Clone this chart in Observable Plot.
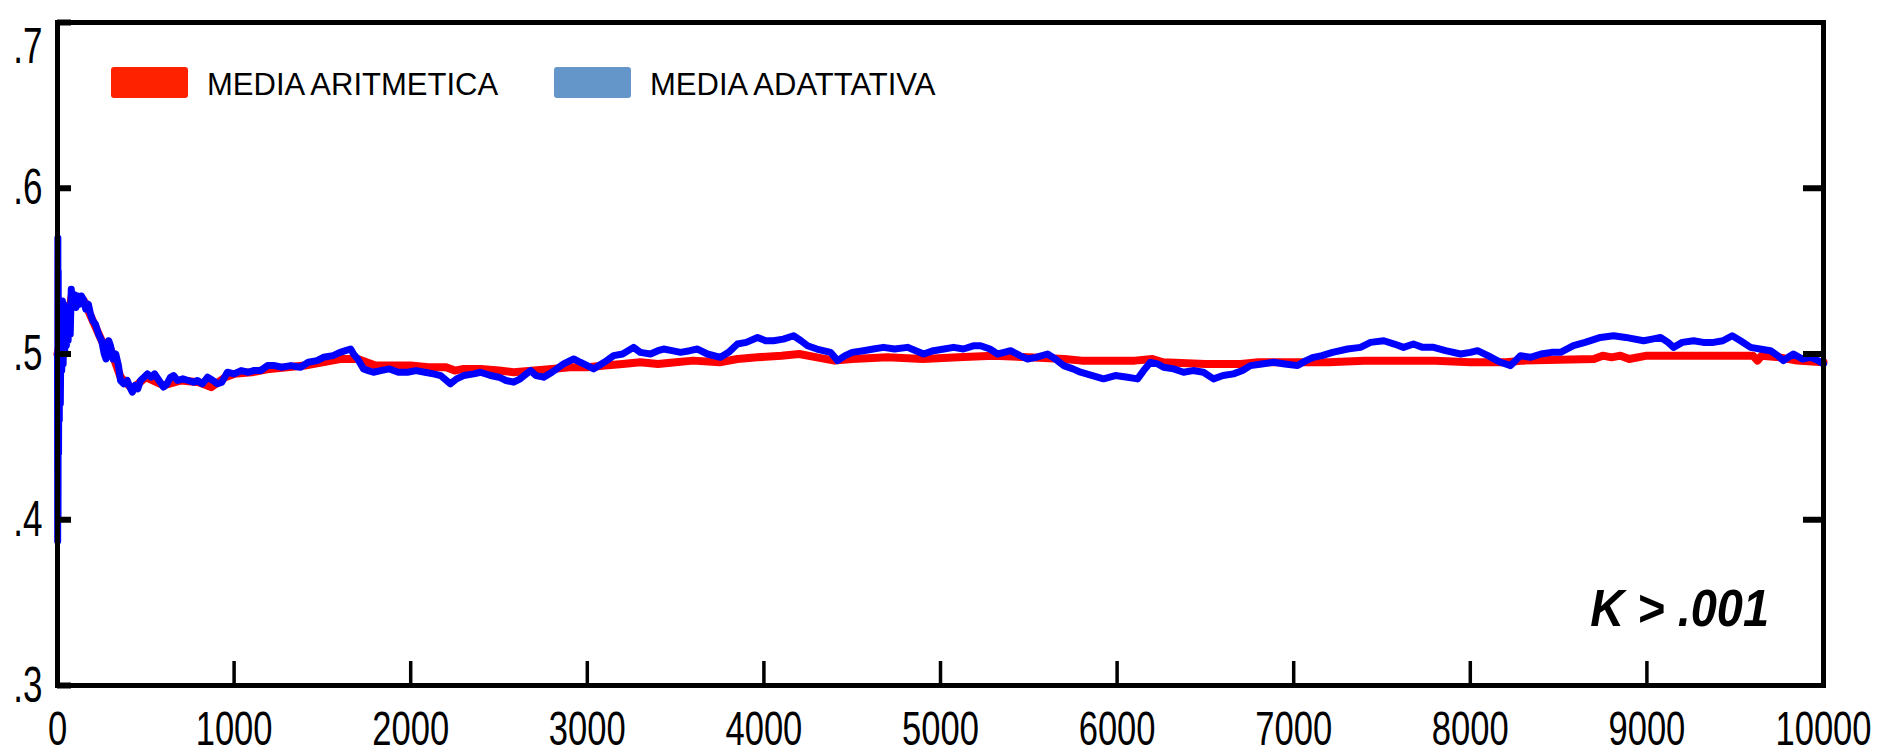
<!DOCTYPE html>
<html>
<head>
<meta charset="utf-8">
<script src="https://cdn.jsdelivr.net/npm/d3@7"></script>
<script src="https://cdn.jsdelivr.net/npm/@observablehq/plot@0.6"></script>
<style>
  html, body { margin: 0; padding: 0; background: #fff; }
  #chart { width: 1893px; height: 752px; }
</style>
</head>
<body>
<div id="chart"></div>
<script>
// ---- data ----
const xTicks = [0, 1000, 2000, 3000, 4000, 5000, 6000, 7000, 8000, 9000, 10000];
const yTicks = [0.3, 0.4, 0.5, 0.6, 0.7];
const yTickLabels = [".3", ".4", ".5", ".6", ".7"];
const seriesNames = ["MEDIA ARITMETICA", "MEDIA ADATTATIVA"];
const annotation = "K > .001";

// adaptive mean [step, value]
const adaptive = [
[0,0.50],[1,0.387],[2,0.57],[3,0.40],[4,0.55],[6,0.44],[8,0.53],[10,0.46],[13,0.52],[16,0.47],[20,0.52],[24,0.49],[28,0.532],[32,0.494],[36,0.53],[40,0.50],[45,0.515],[50,0.505],[55,0.51],[60,0.508],[65,0.52],[72,0.512],[78,0.539],[85,0.530],[95,0.536],[105,0.528],[115,0.535],[125,0.530],[135,0.535],[147,0.533],[160,0.527],[175,0.530],[187,0.524],[200,0.520],[215,0.518],[232,0.512],[250,0.508],[265,0.500],[275,0.497],[290,0.508],[300,0.505],[315,0.497],[330,0.500],[345,0.493],[357,0.484],[375,0.482],[395,0.484],[410,0.480],[424,0.477],[440,0.481],[455,0.479],[470,0.484],[490,0.486],[509,0.488],[530,0.486],[550,0.488],[575,0.484],[600,0.480],[620,0.482],[640,0.486],[657,0.487],[680,0.484],[710,0.485],[740,0.484],[770,0.483],[792,0.484],[820,0.482],[850,0.486],[880,0.484],[906,0.482],[930,0.483],[962,0.489],[1000,0.488],[1040,0.490],[1080,0.489],[1110,0.490],[1150,0.490],[1189,0.493],[1230,0.493],[1270,0.492],[1320,0.493],[1376,0.492],[1420,0.495],[1470,0.496],[1506,0.498],[1560,0.499],[1600,0.501],[1631,0.502],[1660,0.503],[1676,0.500],[1700,0.497],[1733,0.491],[1760,0.490],[1789,0.489],[1830,0.490],[1880,0.491],[1930,0.489],[1982,0.489],[2030,0.490],[2080,0.489],[2129,0.488],[2170,0.487],[2225,0.482],[2260,0.485],[2300,0.487],[2357,0.488],[2395,0.489],[2452,0.487],[2500,0.486],[2540,0.484],[2583,0.483],[2620,0.485],[2679,0.490],[2710,0.487],[2753,0.486],[2800,0.489],[2866,0.494],[2923,0.497],[2960,0.495],[3000,0.493],[3036,0.491],[3080,0.494],[3110,0.496],[3149,0.499],[3200,0.500],[3262,0.504],[3300,0.501],[3358,0.500],[3400,0.502],[3432,0.503],[3480,0.502],[3528,0.501],[3580,0.502],[3624,0.503],[3680,0.500],[3754,0.498],[3800,0.501],[3850,0.506],[3900,0.507],[3964,0.510],[4010,0.508],[4054,0.508],[4110,0.509],[4168,0.511],[4210,0.508],[4247,0.505],[4300,0.503],[4377,0.501],[4417,0.496],[4460,0.499],[4500,0.501],[4564,0.502],[4620,0.503],[4677,0.504],[4740,0.503],[4813,0.504],[4860,0.502],[4904,0.500],[4960,0.502],[5020,0.503],[5074,0.504],[5130,0.503],[5190,0.505],[5227,0.505],[5280,0.503],[5323,0.500],[5360,0.501],[5397,0.502],[5450,0.499],[5493,0.497],[5540,0.498],[5606,0.500],[5650,0.497],[5697,0.493],[5750,0.491],[5793,0.489],[5860,0.487],[5923,0.485],[5990,0.487],[6059,0.486],[6116,0.485],[6150,0.490],[6189,0.495],[6230,0.494],[6263,0.492],[6320,0.491],[6376,0.489],[6430,0.490],[6489,0.489],[6546,0.485],[6600,0.487],[6659,0.488],[6710,0.490],[6755,0.493],[6820,0.494],[6886,0.495],[6950,0.494],[7022,0.493],[7070,0.496],[7112,0.498],[7160,0.499],[7220,0.501],[7305,0.503],[7378,0.504],[7435,0.507],[7510,0.508],[7570,0.506],[7622,0.504],[7678,0.506],[7730,0.504],[7792,0.504],[7860,0.502],[7945,0.500],[8000,0.501],[8041,0.502],[8100,0.499],[8171,0.495],[8228,0.493],[8284,0.499],[8340,0.498],[8400,0.500],[8460,0.501],[8511,0.501],[8584,0.505],[8650,0.507],[8737,0.510],[8811,0.511],[8880,0.510],[8981,0.508],[9030,0.509],[9077,0.510],[9120,0.507],[9151,0.504],[9200,0.507],[9264,0.508],[9320,0.507],[9377,0.507],[9430,0.508],[9483,0.511],[9530,0.508],[9587,0.504],[9640,0.503],[9700,0.502],[9740,0.499],[9773,0.496],[9800,0.498],[9830,0.500],[9880,0.497],[9926,0.498],[9970,0.496],[10000,0.494]
];

// arithmetic mean [step, value]
const arithmetic = [
[0,0.50],[20,0.51],[50,0.51],[80,0.535],[150,0.532],[200,0.520],[250,0.508],[300,0.503],[357,0.486],[424,0.479],[500,0.486],[600,0.481],[700,0.484],[800,0.483],[870,0.480],[950,0.486],[1000,0.488],[1100,0.489],[1200,0.491],[1300,0.492],[1400,0.493],[1500,0.495],[1600,0.497],[1700,0.497],[1750,0.495],[1800,0.493],[1900,0.493],[2000,0.493],[2100,0.492],[2200,0.492],[2250,0.490],[2300,0.491],[2395,0.491],[2500,0.490],[2583,0.489],[2700,0.490],[2800,0.491],[2900,0.492],[3000,0.492],[3100,0.493],[3200,0.494],[3300,0.495],[3400,0.494],[3500,0.495],[3600,0.496],[3750,0.495],[3850,0.497],[3964,0.498],[4100,0.499],[4200,0.500],[4300,0.498],[4400,0.496],[4500,0.497],[4700,0.498],[4900,0.497],[5100,0.498],[5300,0.499],[5500,0.498],[5700,0.497],[5800,0.496],[6100,0.496],[6200,0.497],[6260,0.495],[6500,0.494],[6700,0.494],[6800,0.495],[7000,0.495],[7200,0.495],[7400,0.496],[7600,0.496],[7800,0.496],[8000,0.495],[8200,0.495],[8300,0.496],[8700,0.497],[8750,0.499],[8800,0.498],[8850,0.499],[8900,0.497],[9000,0.499],[9200,0.499],[9500,0.499],[9600,0.499],[9626,0.496],[9650,0.499],[9750,0.498],[9850,0.496],[10000,0.495]
];

const seriesColors = ["#FF0000", "#0000FF"];
const legendColors = ["#FF2200", "#6496C9"];

// ---- layout ----
const W = 1893, H = 752;
const mL = 57, mR = 70, mT = 22, mB = 67;
const plotW = W - mL - mR, plotH = H - mT - mB;
const FONT = "'Liberation Sans', Arial, Helvetica, sans-serif";

const chart = Plot.plot({
  width: W, height: H,
  marginLeft: mL, marginRight: mR, marginTop: mT, marginBottom: mB,
  style: { fontFamily: FONT, background: "white", color: "black", overflow: "visible" },
  x: { domain: [0, 10000] },
  y: { domain: [0.3, 0.7] },
  marks: [
    Plot.line(arithmetic, { x: d => d[0], y: d => d[1], stroke: seriesColors[0], strokeWidth: 8, strokeLinejoin: "round" }),
    Plot.line(adaptive, { x: d => d[0], y: d => d[1], stroke: seriesColors[1], strokeWidth: 7, strokeLinejoin: "round" }),
    Plot.frame({ stroke: "black", strokeWidth: 5 }),
    Plot.tickX(xTicks.slice(1, -1), { x: d => d, stroke: "black", strokeWidth: 3.5, insetTop: plotH - 24 }),
    Plot.tickY(yTicks, { y: d => d, stroke: "black", strokeWidth: 6, insetRight: plotW - 14 }),
    Plot.tickY(yTicks.slice(1, -1), { y: d => d, stroke: "black", strokeWidth: 6, insetLeft: plotW - 20 }),
    Plot.axisX(xTicks, { tickSize: 0, tickPadding: 25, fontSize: 48, tickFormat: d => String(d) }),
    Plot.axisY(yTicks, { tickSize: 0, tickPadding: 15, fontSize: 50, tickFormat: d => yTickLabels[yTicks.indexOf(d)] })
  ]
});

document.getElementById("chart").appendChild(chart);

// condense text horizontally (original uses a narrow face)
function condense(el, s) {
  const len = el.getComputedTextLength();
  el.setAttribute("textLength", (len * s).toFixed(2));
  el.setAttribute("lengthAdjust", "spacingAndGlyphs");
}
chart.querySelectorAll('g[aria-label="x-axis tick label"] text').forEach(el => condense(el, 0.72));
chart.querySelectorAll('g[aria-label="y-axis tick label"] text').forEach(el => {
  condense(el, 0.7);
  // the top label sits a little below its tick in the original
  if (el.textContent === yTickLabels[yTickLabels.length - 1]) el.setAttribute("dy", "0.48em");
});

// legend and annotation inside the frame
const svg = d3.select(chart);
const lg = svg.append("g").attr("font-family", FONT).attr("font-size", 31).attr("fill", "black").attr("text-anchor", "start");
const legendX = [111, 554], textX = [207, 650];
seriesNames.forEach((name, i) => {
  lg.append("rect").attr("x", legendX[i]).attr("y", 67).attr("width", 77).attr("height", 31)
    .attr("rx", 3).attr("fill", legendColors[i]);
  lg.append("text").attr("x", textX[i]).attr("y", 95).attr("text-anchor", "start").text(name);
});
const k = svg.append("text")
  .attr("x", 1769).attr("y", 626)
  .attr("text-anchor", "end")
  .attr("font-family", FONT).attr("font-size", 51)
  .attr("font-weight", "bold").attr("font-style", "italic")
  .attr("fill", "black")
  .text(annotation);
condense(k.node(), 0.92);
</script>
</body>
</html>
